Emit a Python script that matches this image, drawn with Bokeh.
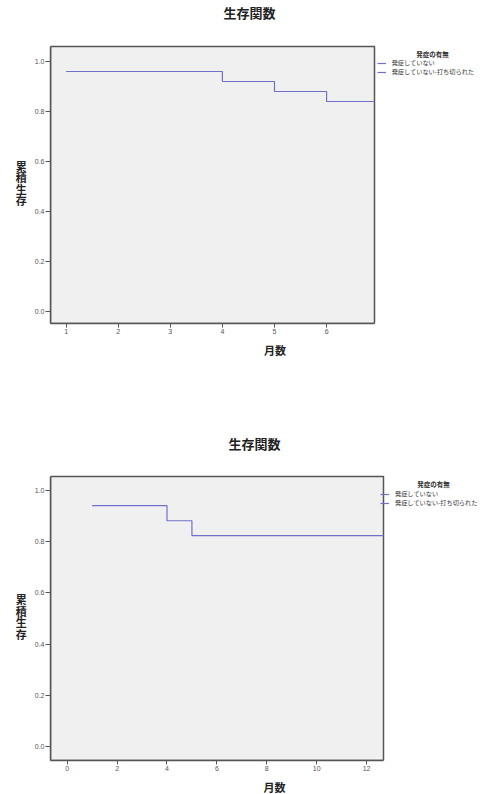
from bokeh.plotting import figure
from bokeh.layouts import column
from bokeh.models import (Range1d, FixedTicker, Legend, LegendItem, Title, Label,
                          BoxAnnotation, CustomJSTickFormatter)
from bokeh.embed import file_html
from bokeh.resources import INLINE

# ---------------- data ----------------
title_text = "生存関数"
x_label = "月数"
y_label = "累積生存"
legend_title = "発症の有無"
legend_labels = ["発症していない", "発症していない-打ち切られた"]

y_ticks = [0.0, 0.2, 0.4, 0.6, 0.8, 1.0]

# chart 1
months1 = [1, 4, 5, 6, 6.92]
surv1 = [0.96, 0.92, 0.88, 0.84, 0.84]
cens_months1 = []
cens_surv1 = []
x_ticks1 = [1, 2, 3, 4, 5, 6]
x_box1 = (0.7, 6.92)
y_box1 = (-0.048, 1.06)

# chart 2
months2 = [1, 4, 5, 12.68]
surv2 = [0.941, 0.882, 0.824, 0.824]
cens_months2 = []
cens_surv2 = []
x_ticks2 = [0, 2, 4, 6, 8, 10, 12]
x_box2 = (-0.67, 12.68)
y_box2 = (-0.055, 1.055)

LINE = "#7070cc"
CJK = "Noto Sans CJK JP"
LAT = "Liberation Sans"
W = 498
EDGE = "#555555"


def make_chart(months, surv, cm, cs, x_ticks, xb, yb, height,
               box_left, box_top, box_w, box_h, title_c, leg_title_c, leg_pos,
               xlab_standoff):
    gap = 4                      # frame starts a little above the grey box
    top = box_top - gap
    fw = W - box_left
    fh = box_h + gap
    bottom = height - top - fh
    x_end = xb[0] + (xb[1] - xb[0]) * fw / box_w
    y_end = yb[0] + (yb[1] - yb[0]) * fh / box_h
    p = figure(width=W, height=height, output_backend="svg",
               toolbar_location=None,
               x_range=Range1d(xb[0], x_end), y_range=Range1d(yb[0], y_end),
               frame_width=fw, frame_height=fh,
               min_border_left=box_left, min_border_top=top,
               min_border_right=0, min_border_bottom=bottom)
    p.background_fill_color = "white"
    p.border_fill_color = "white"
    p.outline_line_color = None
    p.xgrid.visible = False
    p.ygrid.visible = False

    p.add_layout(BoxAnnotation(left=xb[0], right=xb[1], bottom=yb[0], top=yb[1],
                               fill_color="#f0f0f0", fill_alpha=1,
                               line_color=EDGE, line_width=1.5, line_alpha=1,
                               level="underlay"))

    step_r = p.step(months, surv, mode="after", line_color=LINE, line_width=1.2)
    cens_r = p.scatter(cm, cs, marker="cross", size=7, line_color=LINE)

    for ax in (p.xaxis[0], p.yaxis[0]):
        ax.axis_line_color = EDGE
        ax.axis_line_width = 1.5
        ax.major_tick_line_color = EDGE
        ax.major_tick_out = 5
        ax.major_tick_in = 0
        ax.minor_tick_line_color = None
        ax.major_label_text_font = LAT
        ax.major_label_text_font_size = "7px"
        ax.major_label_text_color = "#555555"
        ax.major_label_standoff = 1
        ax.axis_label_text_font = CJK
        ax.axis_label_text_font_style = "bold"
        ax.axis_label_text_font_size = "11px"
        ax.axis_label_text_color = "#222222"

    p.xaxis[0].ticker = FixedTicker(ticks=x_ticks)
    p.xaxis[0].bounds = xb
    p.xaxis[0].major_tick_out = 4
    p.xaxis[0].axis_label = x_label
    p.xaxis[0].axis_label_standoff = xlab_standoff

    p.yaxis[0].ticker = FixedTicker(ticks=y_ticks)
    p.yaxis[0].bounds = yb
    p.yaxis[0].formatter = CustomJSTickFormatter(code="return tick.toFixed(1)")
    p.yaxis[0].axis_label = "\n".join(y_label)
    p.yaxis[0].axis_label_orientation = "horizontal"
    p.yaxis[0].axis_label_standoff = 5
    p.yaxis[0].axis_label_text_line_height = 0.72

    # main title: spacer title (innermost) + real title above it
    title_h = 13 * 1.448
    spacer_h = 2 + 1.45
    want_top = title_c[1] - 9.4
    S = top - spacer_h - (2 + title_h) - want_top
    p.add_layout(Title(text=" ", text_font_size="1px", standoff=max(S, 0)), "above")
    p.add_layout(Title(text=title_text, align="left", offset=title_c[0] - 26 - box_left,
                       vertical_align="top", standoff=0,
                       text_font=CJK, text_font_style="bold", text_font_size="13px",
                       text_color="#222222"), "above")

    # legend title (centered over the legend)
    p.add_layout(Label(x=leg_title_c[0] - box_left, y=top + fh - leg_title_c[1],
                       x_units="screen", y_units="screen",
                       text=legend_title, text_font=CJK, text_font_style="bold",
                       text_font_size="6.5px", text_color="#333333",
                       text_align="center", text_baseline="middle"))

    legend = Legend(items=[LegendItem(label=legend_labels[0], renderers=[step_r]),
                           LegendItem(label=legend_labels[1], renderers=[step_r, cens_r])],
                    location=(leg_pos[0] - box_left, top + fh - leg_pos[1]),
                    orientation="vertical",
                    label_text_font=CJK, label_text_font_size="6.2px",
                    label_text_color="#333333", label_height=6, glyph_height=6,
                    glyph_width=9, label_standoff=6, spacing=-4, padding=0, margin=0,
                    border_line_color=None, background_fill_alpha=0)
    p.add_layout(legend)
    return p


# positions in the figure's own pixels (left/top of grey box, legend bottom-left)
p1 = make_chart(months1, surv1, cens_months1, cens_surv1, x_ticks1, x_box1, y_box1,
                400, 49, 46, 324, 277,
                title_c=(248, 11), leg_title_c=(431, 53), leg_pos=(384, 76),
                xlab_standoff=5)
p2 = make_chart(months2, surv2, cens_months2, cens_surv2, x_ticks2, x_box2, y_box2,
                392, 50, 76, 333, 284,
                title_c=(254, 42), leg_title_c=(433, 83), leg_pos=(380, 107),
                xlab_standoff=5)

layout = column(p1, p2, spacing=0)
open("out.html", "w").write(file_html(layout, INLINE))
